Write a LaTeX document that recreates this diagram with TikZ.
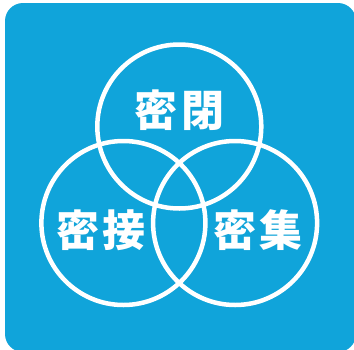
\documentclass[tikz,border=0pt]{standalone}
\usepackage{fontspec}
\newfontfamily\jp{Noto Sans CJK JP}
\definecolor{bgblue}{RGB}{16,164,218}
\tikzset{
  ring/.style={draw=white, line width=4.5bp},
  lbl/.style={text=white, font=\jp\bfseries\fontsize{43bp}{43bp}\selectfont, inner sep=0pt, anchor=base}
}
\begin{document}
\begin{tikzpicture}[x=1bp, y=-1bp]
\useasboundingbox (0,0) rectangle (354,350);
\fill[bgblue, rounded corners=18bp] (5,3) rectangle (356,352);
\node[circle, minimum size=164bp, inner sep=0pt, ring] (top) at (179.3,126.5) {};
\node[circle, minimum size=164bp, inner sep=0pt, ring] (left) at (123.4,223) {};
\node[circle, minimum size=164bp, inner sep=0pt, ring] (right) at (235.1,223) {};
\node[lbl] (t1) at (179.5,126) {密\hspace{4bp}閉};
\node[lbl] (t2) at (101,246) {密\hspace{4bp}接};
\node[lbl] (t3) at (258,246) {密\hspace{4bp}集};
\end{tikzpicture}
\end{document}
